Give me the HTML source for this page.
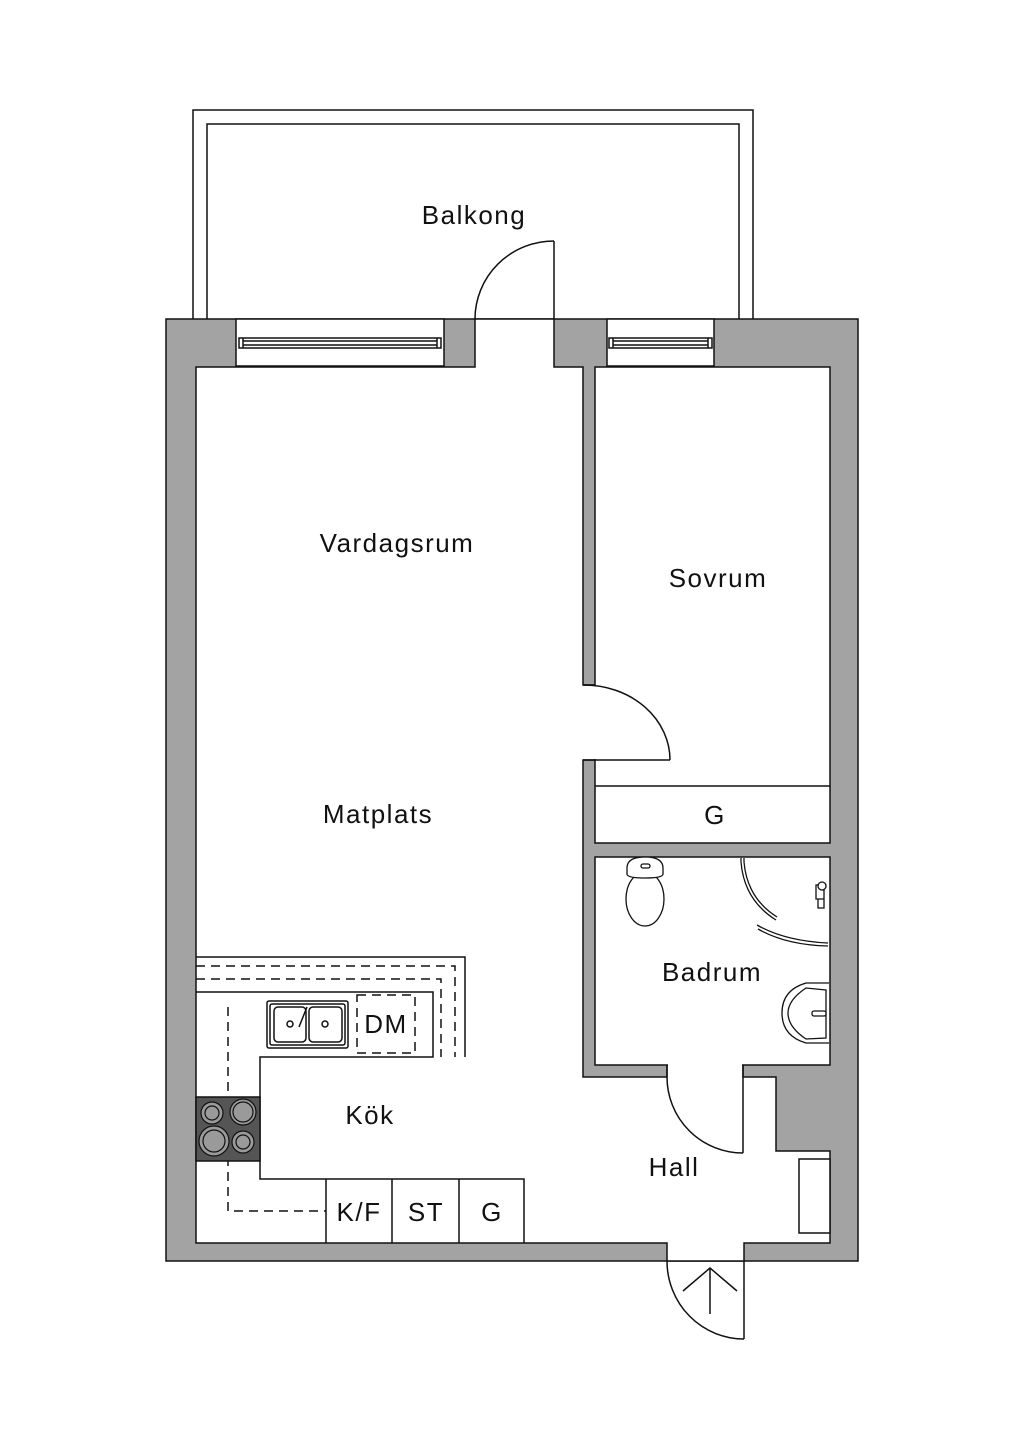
<!DOCTYPE html>
<html><head><meta charset="utf-8"><style>
html,body{margin:0;padding:0;background:#fff;}
svg{display:block}
text{font-family:"Liberation Sans",sans-serif;font-size:26px;letter-spacing:1.5px;fill:#111;text-anchor:middle;}
</style></head><body>
<svg width="1024" height="1448" viewBox="0 0 1024 1448" xmlns="http://www.w3.org/2000/svg">
<g stroke="#111" stroke-width="1.5" fill="none">
<path d="M193,319 V110 H753 V319"/>
<path d="M207,319 V124 H739 V319"/>
<rect x="166" y="319" width="692" height="942" fill="#a3a3a3"/>
<path fill="#fff" d="M196,367 H475 V319 H554 V367 H583 V685 H595 V760 H583 V1077 H667 V1065 H743 V1077 H776 V1151 H830 V1243 H744 V1261 H667 V1243 H196 Z"/>
<rect x="595" y="367" width="235" height="476" fill="#fff"/>
<line x1="595" y1="786" x2="830" y2="786"/>
<rect x="595" y="857" width="235" height="208" fill="#fff"/>
</g>
<rect x="582" y="686" width="14.5" height="73" fill="#fff"/>
<rect x="668" y="1063" width="74" height="15" fill="#fff"/>
<g stroke="#111" stroke-width="1.5" fill="none">
<line x1="583" y1="685" x2="595" y2="685"/>
<line x1="583" y1="760" x2="595" y2="760"/>
<line x1="667" y1="1065" x2="667" y2="1077"/>
<line x1="743" y1="1065" x2="743" y2="1077"/>
<rect x="236" y="319" width="208" height="47" fill="#fff"/>
<rect x="239" y="338" width="202" height="10"/>
<line x1="243" y1="341" x2="437" y2="341"/>
<line x1="243" y1="345" x2="437" y2="345"/>
<line x1="243" y1="338" x2="243" y2="348"/><line x1="437" y1="338" x2="437" y2="348"/>
<rect x="607" y="319" width="107" height="47" fill="#fff"/>
<rect x="609" y="338" width="103" height="10"/>
<line x1="613" y1="341" x2="708" y2="341"/>
<line x1="613" y1="345" x2="708" y2="345"/>
<line x1="613" y1="338" x2="613" y2="348"/><line x1="708" y1="338" x2="708" y2="348"/>
<line x1="554" y1="241" x2="554" y2="319"/>
<path d="M554,241 A79,78 0 0 0 475,319"/>
<line x1="595" y1="760" x2="670" y2="760"/>
<path d="M584,685 A86,75 0 0 1 670,760"/>
<line x1="743" y1="1077" x2="743" y2="1153"/>
<path d="M667,1077 A76,76 0 0 0 743,1153"/>
<line x1="744" y1="1261" x2="744" y2="1339"/>
<path d="M667,1261 A77,78 0 0 0 744,1339"/>
<line x1="710" y1="1268" x2="710" y2="1314"/>
<path d="M683,1291 L710,1268 L737,1291"/>
<rect x="799" y="1159" width="31" height="74" fill="#fff"/>
<path d="M196,957 H465 V1057"/>
<path d="M196,992 H433 V1057 H260 V1179 H524 V1243"/>
<line x1="326" y1="1179" x2="326" y2="1243"/>
<line x1="392" y1="1179" x2="392" y2="1243"/>
<line x1="459" y1="1179" x2="459" y2="1243"/>
<g stroke-dasharray="9,6">
<path d="M196,966 H455 V1057"/>
<path d="M196,979 H441 V1057"/>
<path d="M228,1007 V1211 H326"/>
<rect x="357" y="995" width="58" height="58"/>
</g>
<rect x="267" y="1001" width="81" height="47" rx="2"/>
<rect x="270" y="1004" width="75" height="41" rx="2"/>
<rect x="274" y="1007" width="32" height="35" rx="4"/>
<rect x="309" y="1007" width="33" height="35" rx="4"/>
<circle cx="290" cy="1024" r="3"/><circle cx="325" cy="1024" r="3"/>
<line x1="299" y1="1027" x2="307" y2="1007"/>
<rect x="196" y="1097" width="64" height="64" fill="#555"/>
</g>
<g stroke="#111" stroke-width="1.2" fill="#9a9a9a">
<circle cx="212" cy="1113" r="11"/><circle cx="212" cy="1113" r="7"/>
<circle cx="243" cy="1112" r="13"/><circle cx="243" cy="1112" r="10"/>
<circle cx="214" cy="1141" r="15"/><circle cx="214" cy="1141" r="11"/>
<circle cx="243" cy="1142" r="11"/><circle cx="243" cy="1142" r="7"/>
</g>
<g stroke="#111" stroke-width="1.3" fill="#fff">
<ellipse cx="645" cy="899" rx="19" ry="27"/>
<path d="M627,874 V868 Q627,857 645,857 Q663,857 663,868 V874 Q663,878 645,878 Q627,878 627,874 Z"/>
<rect x="641" y="864" width="9" height="4" rx="2"/>
<path d="M741,858 V862 Q744,900 776,920" fill="none"/>
<path d="M744,858 V862 Q747,898 777,917" fill="none"/>
<path d="M757,925 Q785,941 828,943" fill="none"/>
<path d="M758,929 Q786,945 828,946" fill="none"/>
<path d="M829,983 H806 Q782,990 782,1013 Q782,1036 806,1043 H829" />
<path d="M826,990 L806,988 Q788,1000 788,1013 Q788,1027 806,1039 L826,1038 Z"/>
<rect x="812" y="1011" width="14" height="5" rx="2"/>
<path d="M816,885 h8 v14 h-8 z M818,899 v9 h6 v-9"/>
<circle cx="822" cy="886" r="4"/>
</g>
<text x="474" y="224">Balkong</text>
<text x="397" y="552">Vardagsrum</text>
<text x="718" y="587">Sovrum</text>
<text x="378" y="823">Matplats</text>
<text x="715" y="824">G</text>
<text x="712" y="981">Badrum</text>
<text x="386" y="1033">DM</text>
<text x="370" y="1124">Kök</text>
<text x="674" y="1176">Hall</text>
<text x="359" y="1221">K/F</text>
<text x="426" y="1221">ST</text>
<text x="492" y="1221">G</text>
</svg>
</body></html>
